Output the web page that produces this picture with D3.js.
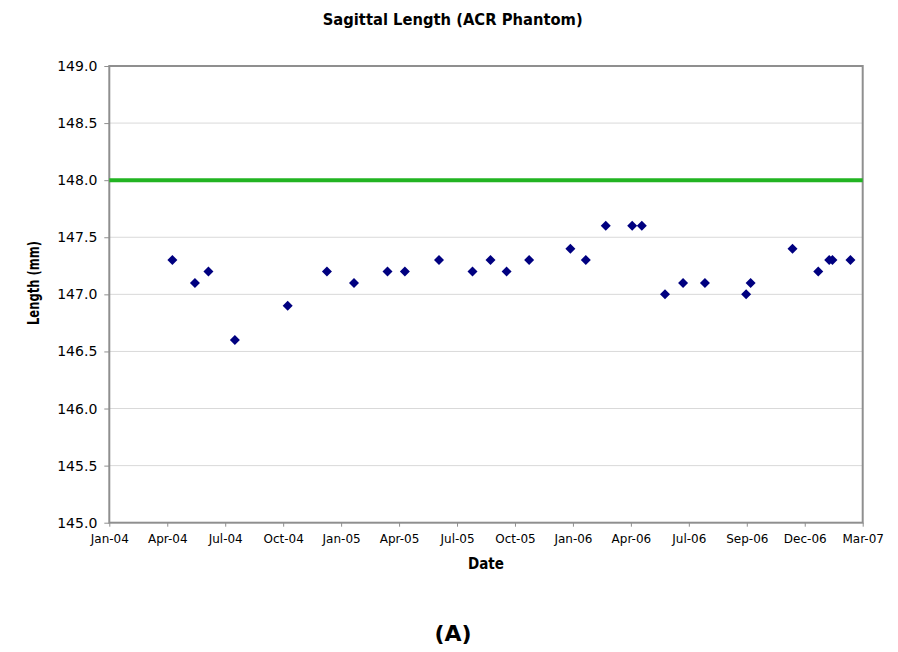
<!DOCTYPE html>
<html>
<head>
<meta charset="utf-8">
<script src="https://cdn.jsdelivr.net/npm/d3@7"></script>
<style>
  body { margin: 0; background: #fff; }
  svg { display: block; font-family: "DejaVu Sans", Verdana, sans-serif; }
  .title, .axisTitle { font-weight: bold; fill: #000; }
</style>
</head>
<body>
<div id="chart"></div>
<script>
// measurement dates (ACR phantom, sagittal length)
const dates = [
  "2004-04-20", "2004-05-25", "2004-06-15", "2004-07-26", "2004-10-16", "2004-12-16",
  "2005-01-27", "2005-03-20", "2005-04-16", "2005-06-08", "2005-07-30", "2005-08-27",
  "2005-09-21", "2005-10-26", "2005-12-29", "2006-01-22", "2006-02-22", "2006-04-04",
  "2006-04-19", "2006-05-25", "2006-06-22", "2006-07-26", "2006-09-28", "2006-10-05",
  "2006-12-09", "2007-01-18", "2007-02-04", "2007-02-09", "2007-03-09"
];
const lengths = [
  147.3, 147.1, 147.2, 146.6, 146.9, 147.2,
  147.1, 147.2, 147.2, 147.3, 147.2, 147.3,
  147.2, 147.3, 147.4, 147.3, 147.6, 147.6,
  147.6, 147.0, 147.1, 147.1, 147.0, 147.1,
  147.4, 147.2, 147.3, 147.3, 147.3
];
const reference = 148.0;
const yTicks = [145.0, 145.5, 146.0, 146.5, 147.0, 147.5, 148.0, 148.5, 149.0];
const xStart = "2004-01-13";
const xStepDays = 90;
const xTickCount = 14;

const width = 898, height = 652;
const margin = { top: 66, right: 35.3, bottom: 129.3, left: 109.3 };

const parse = d3.timeParse("%Y-%m-%d");
const start = parse(xStart);
const xTicks = d3.range(xTickCount).map(i => d3.timeDay.offset(start, i * xStepDays));
const data = dates.map((d, i) => ({ date: parse(d), value: lengths[i] }));

const x = d3.scaleTime()
  .domain([xTicks[0], xTicks[xTicks.length - 1]])
  .range([margin.left, width - margin.right]);
const y = d3.scaleLinear()
  .domain([145, 149])
  .range([height - margin.bottom, margin.top]);

const svg = d3.select("#chart").append("svg")
  .attr("width", width)
  .attr("height", height);

// gridlines
svg.append("g")
  .selectAll("line")
  .data(yTicks.slice(1, -1))
  .join("line")
    .attr("x1", x.range()[0])
    .attr("x2", x.range()[1])
    .attr("y1", d => y(d))
    .attr("y2", d => y(d))
    .attr("stroke", "#d9d9d9")
    .attr("stroke-width", 1);

// frame
svg.append("rect")
  .attr("x", x.range()[0])
  .attr("y", y.range()[1])
  .attr("width", x.range()[1] - x.range()[0])
  .attr("height", y.range()[0] - y.range()[1])
  .attr("fill", "none")
  .attr("stroke", "#8f8f8f")
  .attr("stroke-width", 2);

// y axis
const yAxis = svg.append("g")
  .attr("transform", `translate(${margin.left},0)`)
  .call(d3.axisLeft(y).tickValues(yTicks).tickFormat(d3.format(".1f")).tickSize(5).tickPadding(7))
  .call(g => g.select(".domain").remove());
yAxis.selectAll("line").attr("stroke", "#8f8f8f");
yAxis.selectAll("text").attr("font-size", 14).attr("font-family", "DejaVu Sans").attr("fill", "#000");

// x axis
const xAxis = svg.append("g")
  .attr("transform", `translate(0,${height - margin.bottom})`)
  .call(d3.axisBottom(x).tickValues(xTicks).tickFormat(d3.timeFormat("%b-%y")).tickSize(4).tickPadding(8))
  .call(g => g.select(".domain").remove());
xAxis.selectAll("line").attr("stroke", "#8f8f8f");
xAxis.selectAll("text").attr("font-size", 12).attr("font-family", "DejaVu Sans").attr("fill", "#000");

// reference line
svg.append("line")
  .attr("x1", x.range()[0])
  .attr("x2", x.range()[1])
  .attr("y1", y(reference))
  .attr("y2", y(reference))
  .attr("stroke", "#22b422")
  .attr("stroke-width", 4);

// diamonds
const r = 5;
svg.append("g")
  .attr("fill", "#000080")
  .selectAll("path")
  .data(data)
  .join("path")
    .attr("transform", d => `translate(${x(d.date)},${y(d.value)})`)
    .attr("d", `M0,${-r}L${r},0L0,${r}L${-r},0Z`);

// titles
svg.append("text")
  .attr("class", "title")
  .attr("x", 452.7)
  .attr("y", 25)
  .attr("text-anchor", "middle")
  .attr("font-size", 15)
  .attr("textLength", 260)
  .attr("lengthAdjust", "spacingAndGlyphs")
  .text("Sagittal Length (ACR Phantom)");

svg.append("text")
  .attr("class", "axisTitle")
  .attr("x", 486)
  .attr("y", 569)
  .attr("text-anchor", "middle")
  .attr("font-size", 15)
  .attr("textLength", 36)
  .attr("lengthAdjust", "spacingAndGlyphs")
  .text("Date");

svg.append("text")
  .attr("class", "axisTitle")
  .attr("transform", `translate(39,283) rotate(-90)`)
  .attr("text-anchor", "middle")
  .attr("font-size", 15)
  .attr("textLength", 84)
  .attr("lengthAdjust", "spacingAndGlyphs")
  .text("Length (mm)");

svg.append("text")
  .attr("class", "axisTitle")
  .attr("x", 453)
  .attr("y", 641)
  .attr("text-anchor", "middle")
  .attr("font-size", 22)
  .text("(A)");
</script>
</body>
</html>
